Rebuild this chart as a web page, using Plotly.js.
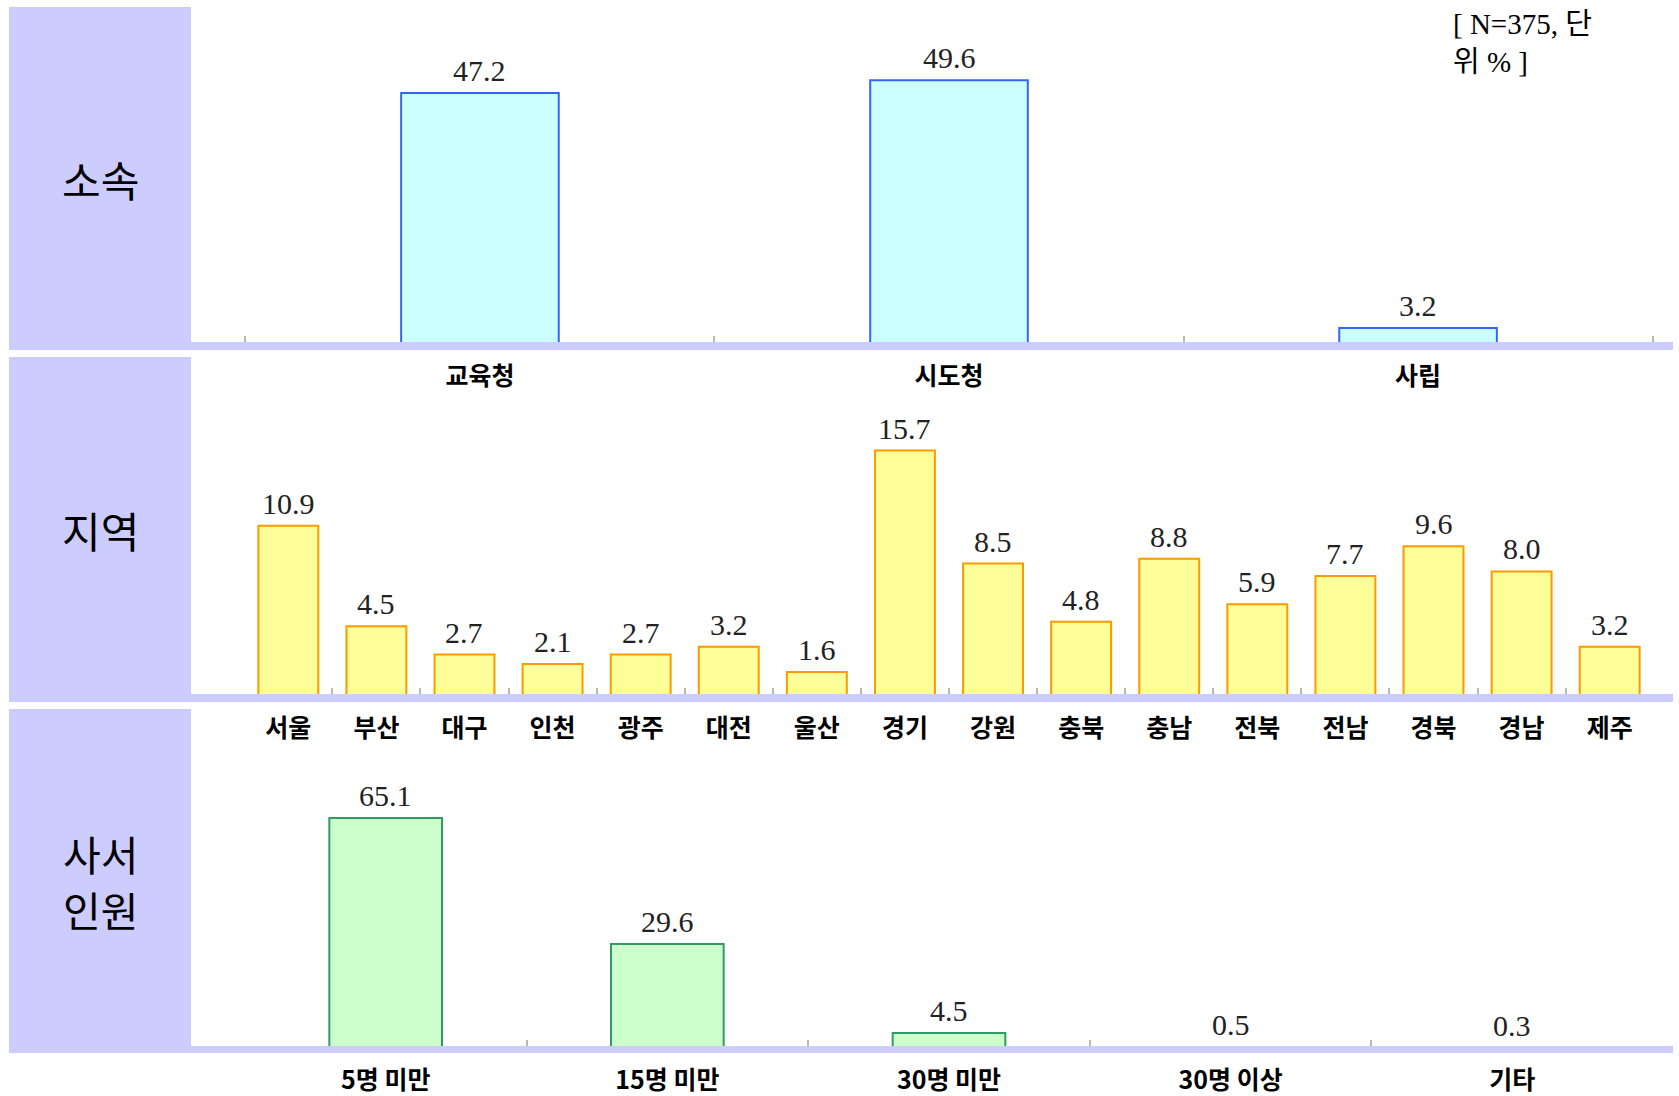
<!DOCTYPE html>
<html>
<head>
<meta charset="utf-8">
<script src="https://cdn.plot.ly/plotly-3.0.1.min.js"></script>
<style>
  html, body { margin: 0; padding: 0; background: #ffffff; }
  #chart { width: 1679px; height: 1096px; }
</style>
</head>
<body>
<div id="chart"></div>
<script>
// ---- Data ----
const affiliationCats = ["교육청", "시도청", "사립"];
const affiliationVals = [47.2, 49.6, 3.2];

const regionCats = ["서울", "부산", "대구", "인천", "광주", "대전", "울산", "경기",
                    "강원", "충북", "충남", "전북", "전남", "경북", "경남", "제주"];
const regionVals = [10.9, 4.5, 2.7, 2.1, 2.7, 3.2, 1.6, 15.7,
                    8.5, 4.8, 8.8, 5.9, 7.7, 9.6, 8.0, 3.2];

const staffCats = ["5명 미만", "15명 미만", "30명 미만", "30명 이상", "기타"];
const staffVals = [65.1, 29.6, 4.5, 0.5, 0.3];

const panelTitles = [["소속"], ["지역"], ["사서", "인원"]];
const noteText = "[ N=375, 단<br>위 % ]";

// ---- Layout helpers (pixel -> paper) ----
const W = 1679, H = 1096;
const px = x => x / W;
const py = y => 1 - y / H;

const PURPLE = "#ccccff";
const valueFont = { family: "Liberation Serif, serif", size: 30, color: "#222222" };
const tickFont = { family: "Noto Sans CJK KR, sans-serif", size: 25, color: "#000000", weight: 700 };

// panel geometry (pixels): box top, band top, value baseline (inside band), band bottom, px per unit
const panels = [
  { top: 7,   bandTop: 342,  base: 345,  bandBot: 350,  scale: 5.34 },
  { top: 357, bandTop: 694,  base: 697,  bandBot: 702,  scale: 15.7 },
  { top: 709, bandTop: 1046, base: 1049, bandBot: 1053, scale: 3.55 }
];

function bar(cats, vals, xa, ya, fill, line, width) {
  return {
    type: "bar",
    x: cats, y: vals,
    xaxis: xa, yaxis: ya,
    width: width,
    marker: { color: fill, line: { color: line, width: 2 } },
    cliponaxis: false,
    hoverinfo: "x+y",
    showlegend: false
  };
}

const traces = [
  bar(affiliationCats, affiliationVals, "x", "y", "#ccffff", "#3366ff", 0.336),
  bar(regionCats, regionVals, "x2", "y2", "#ffff99", "#ff9900", 0.68),
  bar(staffCats, staffVals, "x3", "y3", "#ccffcc", "#339966", 0.40)
];

function xaxis(anchor, n) {
  return {
    domain: [px(244), px(1654)],
    anchor: anchor,
    type: "category",
    range: [-0.503, n - 0.497],
    showgrid: false, zeroline: false, showline: false,
    ticks: "inside", tickson: "boundaries",
    ticklen: 9, tickwidth: 2, tickcolor: "#b8b8b8",
    tickfont: tickFont,
    ticklabelstandoff: 14,
    fixedrange: true
  };
}
function yaxis(anchor, p) {
  return {
    domain: [py(p.base), py(p.top)],
    anchor: anchor,
    range: [0, (p.base - p.top) / p.scale],
    showgrid: false, zeroline: false, showline: false,
    showticklabels: false, ticks: "",
    fixedrange: true
  };
}

const shapes = [];
panels.forEach(p => {
  shapes.push({ type: "rect", xref: "paper", yref: "paper", layer: "above",
    x0: px(9), x1: px(191), y0: py(p.bandBot), y1: py(p.top),
    fillcolor: PURPLE, line: { width: 0 } });
  shapes.push({ type: "rect", xref: "paper", yref: "paper", layer: "above",
    x0: px(191), x1: px(1673), y0: py(p.bandBot), y1: py(p.bandTop),
    fillcolor: PURPLE, line: { width: 0 } });
});

const annotations = [];
// value labels placed through the data axes
[[affiliationCats, affiliationVals, "x", "y"],
 [regionCats, regionVals, "x2", "y2"],
 [staffCats, staffVals, "x3", "y3"]].forEach(([cats, vals, xa, ya]) => {
  cats.forEach((c, i) => {
    annotations.push({ xref: xa, yref: ya, x: c, y: vals[i],
      xanchor: "center", yanchor: "bottom", yshift: 4, showarrow: false,
      text: vals[i].toFixed(1), font: valueFont });
  });
});
panels.forEach((p, i) => {
  const cyPx = (p.top + p.bandBot) / 2;
  const lines = panelTitles[i];
  const gap = 56;
  lines.forEach((t, j) => {
    const yPx = cyPx + (j - (lines.length - 1) / 2) * gap;
    annotations.push({ xref: "paper", yref: "paper", x: px(100), y: py(yPx),
      xanchor: "center", yanchor: "middle", showarrow: false,
      text: t,
      font: { family: "Noto Sans CJK KR, sans-serif", size: lines.length > 1 ? 41 : 42, color: "#000000" } });
  });
});
annotations.push({ xref: "paper", yref: "paper", x: px(1451), y: py(6),
  xanchor: "left", yanchor: "top", align: "left", showarrow: false,
  text: noteText,
  font: { family: "Liberation Serif, Noto Sans CJK KR, serif", size: 29, color: "#000000" } });

const layout = {
  width: W, height: H,
  margin: { l: 0, r: 0, t: 0, b: 0 },
  paper_bgcolor: "#ffffff", plot_bgcolor: "rgba(0,0,0,0)",
  showlegend: false,
  xaxis: xaxis("y", affiliationCats.length),
  xaxis2: xaxis("y2", regionCats.length),
  xaxis3: xaxis("y3", staffCats.length),
  yaxis: yaxis("x", panels[0]),
  yaxis2: yaxis("x2", panels[1]),
  yaxis3: yaxis("x3", panels[2]),
  shapes: shapes,
  annotations: annotations
};

Plotly.newPlot("chart", traces, layout, { displayModeBar: false, staticPlot: true });
</script>
</body>
</html>
